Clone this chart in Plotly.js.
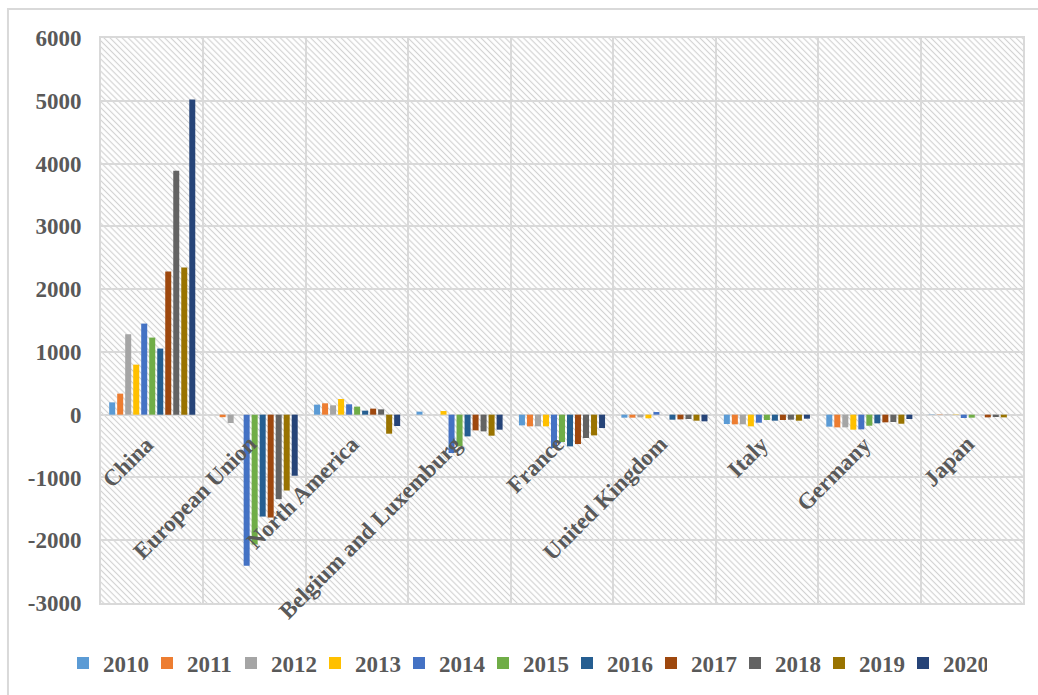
<!DOCTYPE html>
<html>
<head>
<meta charset="utf-8">
<script src="https://cdn.plot.ly/plotly-3.0.1.min.js"></script>
<style>
html,body{margin:0;padding:0;background:#ffffff;}
#chart{width:1038px;height:695px;}
</style>
</head>
<body>
<div id="chart"></div>
<script>
// ---------- DATA ----------
const categories = ["China", "European Union", "North America", "Belgium and Luxemburg", "France", "United Kingdom", "Italy", "Germany", "Japan"];
const years = ["2010", "2011", "2012", "2013", "2014", "2015", "2016", "2017", "2018", "2019", "2020"];

const v2010 = [196, 0, 160, 48, -170, -48, -149, -191, -5];
const v2011 = [335, -40, 181, 0, -186, -48, -154, -202, -5];
const v2012 = [1281, -133, 149, 0, -186, -43, -154, -202, -5];
const v2013 = [797, 0, 250, 58, -186, -58, -186, -239, -5];
const v2014 = [1451, -2405, 165, -611, -532, 42, -128, -234, -53];
const v2015 = [1228, -2070, 128, -505, -436, 0, -85, -176, -48];
const v2016 = [1053, -1623, 64, -346, -505, -80, -96, -138, 0];
const v2017 = [2281, -1639, 96, -250, -468, -75, -85, -122, -43];
const v2018 = [3887, -1346, 85, -266, -372, -69, -80, -117, -37];
const v2019 = [2345, -1208, -303, -335, -330, -96, -96, -144, -43];
const v2020 = [5019, -973, -181, -239, -213, -106, -64, -69, 0];

const yTickVals = [-3000, -2000, -1000, 0, 1000, 2000, 3000, 4000, 5000, 6000];
const yTickText = ["-3000", "-2000", "-1000", "0", "1000", "2000", "3000", "4000", "5000", "6000"];

const seriesValues = [v2010, v2011, v2012, v2013, v2014, v2015, v2016, v2017, v2018, v2019, v2020];
const colors = ["#5B9BD5", "#ED7D31", "#A5A5A5", "#FFC000", "#4472C4", "#70AD47", "#255E91", "#9E480E", "#636363", "#997300", "#264478"];

// ---------- STYLE ----------
const FONT = "Liberation Serif, 'Times New Roman', Times, serif";
const TXT = "#595959";
const GRID = "#d9d9d9";

const traces = years.map((yr, i) => ({
  type: "bar",
  name: yr,
  x: categories,
  y: seriesValues[i],
  marker: { color: colors[i], line: { width: 0 } },
  hoverinfo: "skip"
}));

const hatchSvg =
  "<svg xmlns='http://www.w3.org/2000/svg' width='922' height='565'>" +
  "<defs><pattern id='h' width='4.3' height='4.3' patternUnits='userSpaceOnUse' patternTransform='rotate(-45)'>" +
  "<line x1='2.15' y1='-1' x2='2.15' y2='5.3' stroke='#d2d2d2' stroke-width='1.2'/></pattern></defs>" +
  "<rect width='922' height='565' fill='url(#h)'/></svg>";
const hatchUri = "data:image/svg+xml;charset=utf-8," + encodeURIComponent(hatchSvg);

const annotations = categories.map(c => ({
  xref: "x", yref: "y", x: c, y: 0,
  text: c, showarrow: false, textangle: -45,
  xanchor: "right", yanchor: "top",
  xshift: 10, yshift: -14,
  font: { family: FONT, size: 23, color: TXT, weight: "bold" }
}));

const layout = {
  width: 1038, height: 695,
  margin: { l: 101, r: 15, t: 38, b: 92, pad: 0, autoexpand: false },
  paper_bgcolor: "#ffffff",
  plot_bgcolor: "rgba(0,0,0,0)",
  font: { family: FONT, size: 23, color: TXT, weight: "bold" },
  barmode: "group",
  bargap: 0.14,
  bargroupgap: 0.25,
  showlegend: true,
  xaxis: {
    type: "category",
    range: [-0.5, 8.5],
    tickson: "boundaries",
    showgrid: true, gridcolor: GRID, gridwidth: 2,
    showticklabels: false, ticks: "",
    showline: true, mirror: true, linecolor: GRID, linewidth: 2,
    zeroline: false, fixedrange: true, automargin: false
  },
  yaxis: {
    range: [-3000, 6000],
    tickmode: "array", tickvals: yTickVals, ticktext: yTickText,
    showgrid: true, gridcolor: GRID, gridwidth: 2,
    zeroline: true, zerolinecolor: GRID, zerolinewidth: 2,
    showline: true, mirror: true, linecolor: GRID, linewidth: 2,
    ticks: "", ticklabelstandoff: 13,
    tickfont: { family: FONT, size: 23, color: TXT, weight: "bold" },
    fixedrange: true, automargin: false
  },
  legend: {
    orientation: "h",
    xref: "container", yref: "container",
    x: 63 / 1038, xanchor: "left",
    y: 1 - 663 / 695, yanchor: "middle",
    entrywidth: 39, entrywidthmode: "pixels",
    itemwidth: 30,
    traceorder: "normal",
    font: { family: FONT, size: 23, color: TXT, weight: "bold" },
    bgcolor: "rgba(0,0,0,0)"
  },
  images: [{
    source: hatchUri, xref: "paper", yref: "paper",
    x: 0, y: 1, sizex: 1, sizey: 1,
    xanchor: "left", yanchor: "top",
    sizing: "stretch", layer: "below"
  }],
  shapes: [{
    type: "rect", xref: "paper", yref: "paper",
    x0: -0.1009, x1: 1.02, y0: -0.2, y1: 1.0513,
    line: { color: GRID, width: 2 }, fillcolor: "rgba(0,0,0,0)", layer: "below"
  }],
  annotations: annotations
};

Plotly.newPlot("chart", traces, layout, { staticPlot: true, displayModeBar: false });
</script>
</body>
</html>
